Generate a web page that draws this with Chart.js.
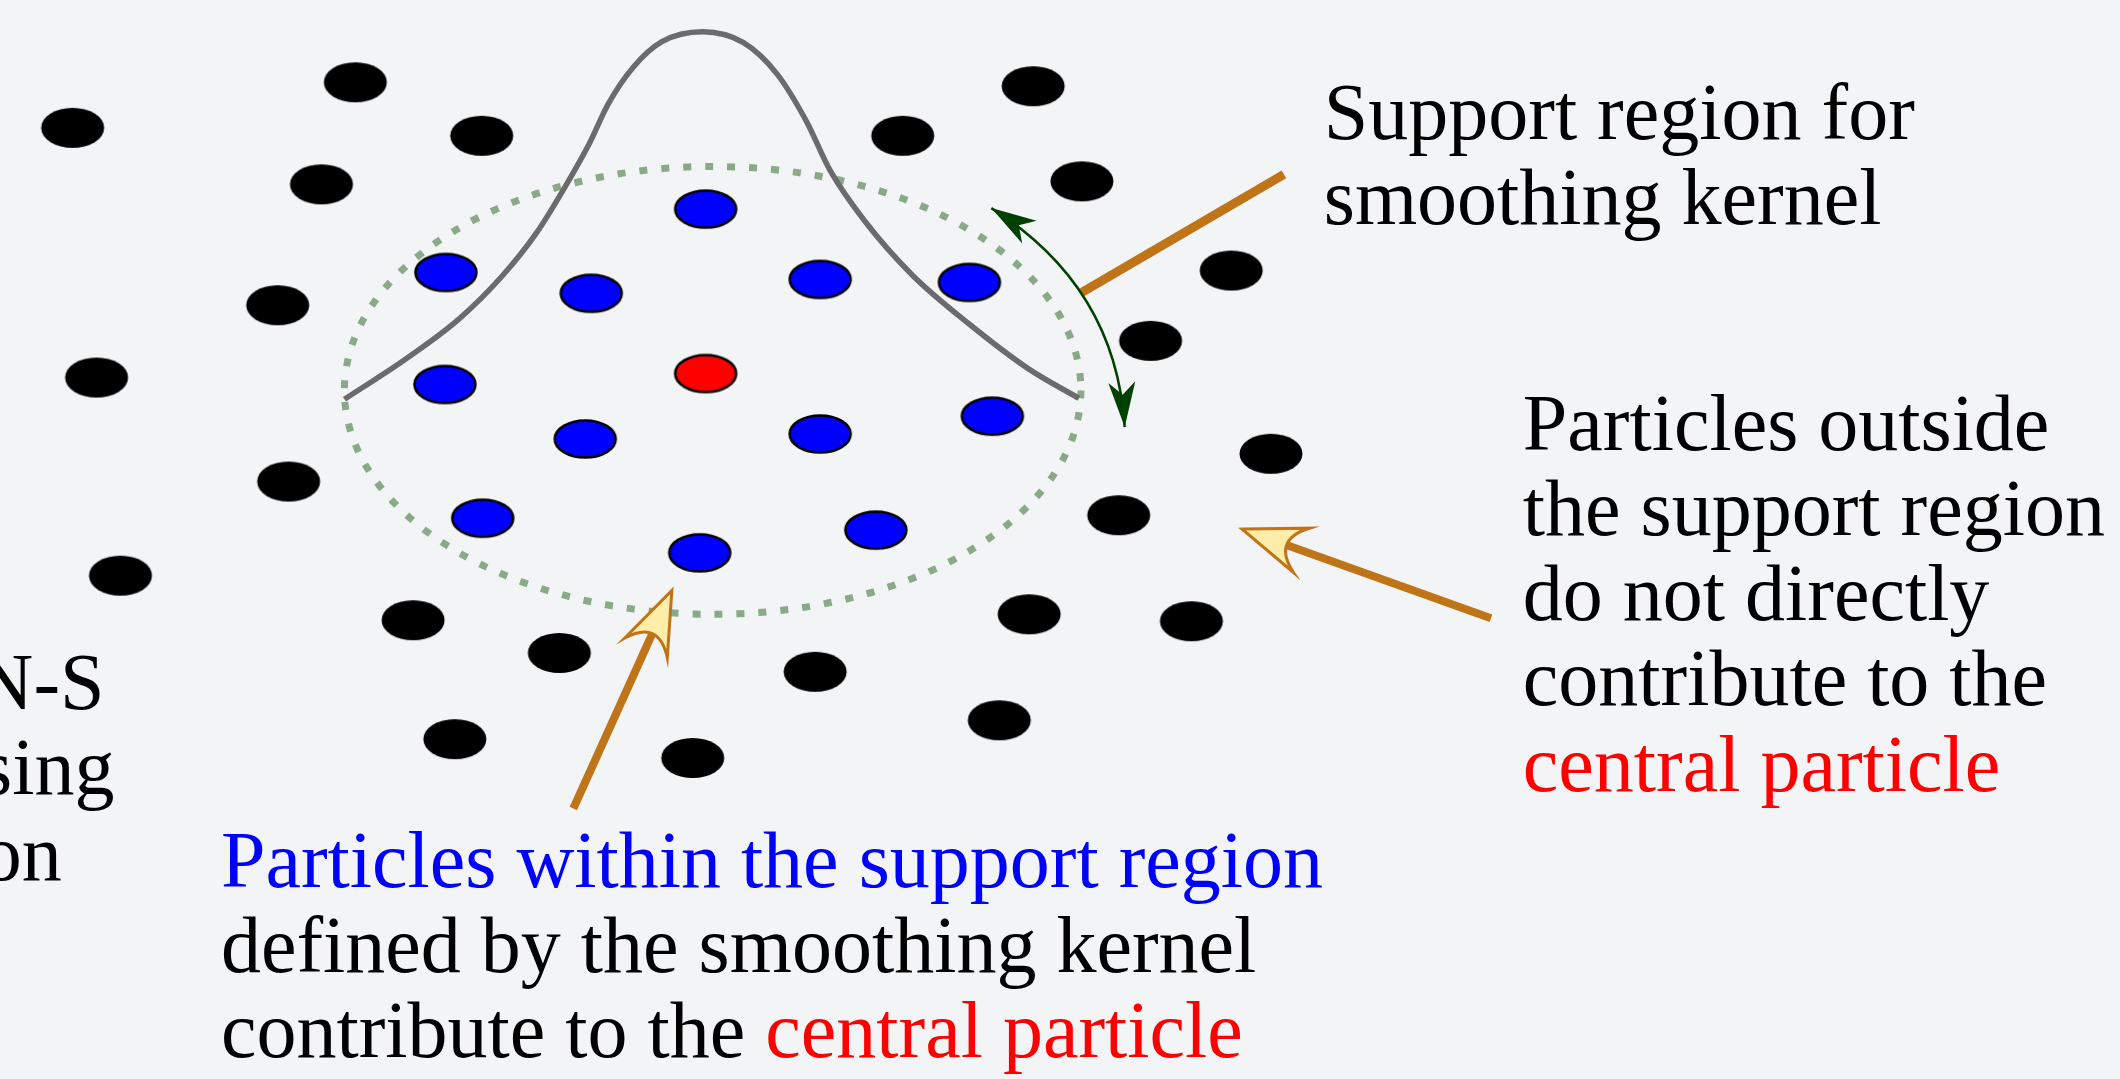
<!DOCTYPE html>
<html>
<head>
<meta charset="utf-8">
<script src="https://cdn.jsdelivr.net/npm/chart.js@4.4.1/dist/chart.umd.min.js"></script>
<style>
  html, body { margin: 0; padding: 0; background: #f3f4f6; overflow: hidden; }
  canvas { display: block; }
</style>
</head>
<body>
<canvas id="kernelChart" width="2120" height="1079"></canvas>
<script>
// particle centres, in picture units (x right, y down)
const outsideParticles = [
  [68, 124], [352, 78], [479, 132], [318, 181], [274, 303], [92, 376],
  [285, 481], [116, 576], [410, 621], [557, 654], [452, 741], [691, 760],
  [814, 673], [999, 722], [1029, 615], [1192, 622], [1119, 515], [1272, 453],
  [1151, 339], [1232, 268], [1082, 178], [902, 132], [1033, 82],
];
const insideParticles = [
  [704, 206], [443, 270], [589, 291], [819, 277], [969, 280], [442, 383],
  [583, 438], [819, 433], [992, 415], [480, 518], [875, 530], [698, 553],
];
const centralParticle = [[704, 372]];

// smoothing kernel profile
const kernelCurve = [
  [341, 398], [403, 357], [456, 317], [500, 273], [534, 230], [563, 183],
  [587, 140], [606, 100], [631, 63], [660, 37], [701, 27], [742, 38],
  [776, 70], [805, 117], [829, 167], [863, 217], [912, 273], [970, 323],
  [1028, 367], [1079, 397],
];

// support region (centre and radii)
const supportCenter = [711, 389];
const supportRadii = [370, 226];

// pointers: [tail, tip]
const kernelPointer = [[1285, 171], [1082, 290]];
const kernelSpan = [[991, 205], [1125, 426]];
const kernelSpanBend = [1116, 284];
const insidePointer = [[571, 811], [670, 591]];
const outsidePointer = [[1493, 619], [1243, 529]];

// labels: x, first baseline, lines of [text, colour] pieces
const supportLabel = [1325, 135, [
  [["Support region for", "#000"]],
  [["smoothing kernel", "#000"]],
]];
const outsideLabel = [1525, 449, [
  [["Particles outside", "#000"]],
  [["the support region", "#000"]],
  [["do not directly", "#000"]],
  [["contribute to the", "#000"]],
  [["central particle", "#ff0000"]],
]];
const insideLabel = [217, 890, [
  [["Particles within the support region", "#0000ff"]],
  [["defined by the smoothing kernel", "#000"]],
  [["contribute to the ", "#000"], ["central particle", "#ff0000"]],
]];
const leftFragments = [[100, 711, "N-S"], [110, 796, "sing"], [57, 883, "on"]];

const LINE_GAP = 86;
const FONT = '80px "Liberation Serif", "DejaVu Serif", serif';
const ORANGE = "#c07418";
const HEAD_FILL = "#feeda8";
const GREEN = "#004000";

function toPoints(list) {
  return list.map(([x, y]) => ({ x, y }));
}

function particleSprite(fill, stroke) {
  const c = document.createElement("canvas");
  c.width = 68;
  c.height = 46;
  const g = c.getContext("2d");
  g.beginPath();
  if (stroke) g.ellipse(34, 23, 30.5, 18.5, 0, 0, Math.PI * 2);
  else g.ellipse(34, 23, 31.5, 20, 0, 0, Math.PI * 2);
  g.fillStyle = fill;
  g.fill();
  if (stroke) {
    g.lineWidth = 2.5;
    g.strokeStyle = stroke;
    g.stroke();
  }
  return c;
}

function px(chart, p) {
  return [chart.scales.x.getPixelForValue(p[0]), chart.scales.y.getPixelForValue(p[1])];
}

function unit(a, b) {
  const dx = b[0] - a[0], dy = b[1] - a[1];
  const len = Math.hypot(dx, dy);
  return [dx / len, dy / len];
}

// stealth-like head; dir points towards the tip
function headPath(ctx, tip, dir, len, half, inset, curved) {
  const nx = -dir[1], ny = dir[0];
  const base = [tip[0] - dir[0] * len, tip[1] - dir[1] * len];
  const left = [base[0] + nx * half, base[1] + ny * half];
  const right = [base[0] - nx * half, base[1] - ny * half];
  ctx.beginPath();
  ctx.moveTo(tip[0], tip[1]);
  ctx.lineTo(left[0], left[1]);
  if (curved) {
    const d = len * (2 * inset - 1);
    ctx.quadraticCurveTo(tip[0] - dir[0] * d, tip[1] - dir[1] * d, right[0], right[1]);
  } else {
    ctx.lineTo(tip[0] - dir[0] * len * inset, tip[1] - dir[1] * len * inset);
    ctx.lineTo(right[0], right[1]);
  }
  ctx.closePath();
}

function drawPointer(chart, pointer) {
  const ctx = chart.ctx;
  const tail = px(chart, pointer[0]);
  const tip = px(chart, pointer[1]);
  const dir = unit(tail, tip);
  const len = 63;
  ctx.save();
  ctx.strokeStyle = ORANGE;
  ctx.lineWidth = 8;
  ctx.beginPath();
  ctx.moveTo(tail[0], tail[1]);
  ctx.lineTo(tip[0] - dir[0] * len * 0.7, tip[1] - dir[1] * len * 0.7);
  ctx.stroke();
  headPath(ctx, tip, dir, len, 23.5, 0.75, true);
  ctx.fillStyle = HEAD_FILL;
  ctx.fill();
  ctx.lineWidth = 3;
  ctx.lineJoin = "miter";
  ctx.stroke();
  ctx.restore();
}

function drawLabel(ctx, chart, label) {
  const [x0, y0, lines] = label;
  lines.forEach((pieces, i) => {
    let [x, y] = px(chart, [x0, y0 + i * LINE_GAP]);
    pieces.forEach(([text, color]) => {
      ctx.fillStyle = color;
      ctx.fillText(text, x, y);
      x += ctx.measureText(text).width;
    });
  });
}

const diagramPlugin = {
  id: "diagram",
  beforeDraw(chart) {
    const ctx = chart.ctx;
    ctx.save();
    ctx.fillStyle = "#f3f4f6";
    ctx.fillRect(0, 0, chart.width, chart.height);
    ctx.restore();
  },
  beforeDatasetsDraw(chart) {
    const ctx = chart.ctx;
    const c = px(chart, supportCenter);
    const edge = px(chart, [supportCenter[0] + supportRadii[0], supportCenter[1] + supportRadii[1]]);
    ctx.save();
    ctx.beginPath();
    ctx.ellipse(c[0], c[1], Math.abs(edge[0] - c[0]), Math.abs(edge[1] - c[1]), 0, 0, Math.PI * 2);
    ctx.setLineDash([8, 14]);
    ctx.lineWidth = 7;
    ctx.strokeStyle = "#89a989";
    ctx.stroke();
    ctx.restore();
  },
  afterDatasetsDraw(chart) {
    const ctx = chart.ctx;

    // kernel pointer line
    const a = px(chart, kernelPointer[0]);
    const b = px(chart, kernelPointer[1]);
    ctx.save();
    ctx.strokeStyle = ORANGE;
    ctx.lineWidth = 9;
    ctx.beginPath();
    ctx.moveTo(a[0], a[1]);
    ctx.lineTo(b[0], b[1]);
    ctx.stroke();

    // double headed span arrow
    const s = px(chart, kernelSpan[0]);
    const e = px(chart, kernelSpan[1]);
    const k = px(chart, kernelSpanBend);
    ctx.strokeStyle = GREEN;
    ctx.fillStyle = GREEN;
    ctx.lineWidth = 2.5;
    ctx.beginPath();
    ctx.moveTo(s[0], s[1]);
    ctx.quadraticCurveTo(k[0], k[1], e[0], e[1]);
    ctx.stroke();
    headPath(ctx, s, unit(k, s), 45, 13.5, 0.72, false);
    ctx.fill();
    headPath(ctx, e, unit(k, e), 45, 13.5, 0.72, false);
    ctx.fill();
    ctx.restore();

    drawPointer(chart, insidePointer);
    drawPointer(chart, outsidePointer);

    ctx.save();
    ctx.font = FONT;
    ctx.textBaseline = "alphabetic";
    ctx.textAlign = "left";
    drawLabel(ctx, chart, supportLabel);
    drawLabel(ctx, chart, outsideLabel);
    drawLabel(ctx, chart, insideLabel);
    ctx.fillStyle = "#000";
    ctx.textAlign = "right";
    leftFragments.forEach(([x, y, text]) => {
      const p = px(chart, [x, y]);
      ctx.fillText(text, p[0], p[1]);
    });
    ctx.restore();
  },
};

function init() {
  new Chart(document.getElementById("kernelChart"), {
    type: "scatter",
    data: {
      datasets: [
        {
          label: "Central particle",
          data: toPoints(centralParticle),
          pointStyle: particleSprite("#ff0000", "#000"),
        },
        {
          label: "Inside support",
          data: toPoints(insideParticles),
          pointStyle: particleSprite("#0000ff", "#000"),
        },
        {
          label: "Outside support",
          data: toPoints(outsideParticles),
          pointStyle: particleSprite("#000", null),
        },
        {
          label: "Kernel",
          data: toPoints(kernelCurve),
          showLine: true,
          pointRadius: 0,
          borderColor: "#6b6b6b",
          borderWidth: 5.5,
          cubicInterpolationMode: "monotone",
          fill: false,
        },
      ],
    },
    options: {
      responsive: false,
      animation: false,
      devicePixelRatio: 1,
      events: [],
      layout: { padding: 0 },
      plugins: { legend: { display: false }, tooltip: { enabled: false } },
      scales: {
        x: { type: "linear", min: 0, max: 2120, display: false },
        y: { type: "linear", min: 0, max: 1079, reverse: true, display: false },
      },
    },
    plugins: [diagramPlugin],
  });
}

if (document.fonts && document.fonts.load) {
  document.fonts.load(FONT).then(init, init);
} else {
  init();
}
</script>
</body>
</html>
